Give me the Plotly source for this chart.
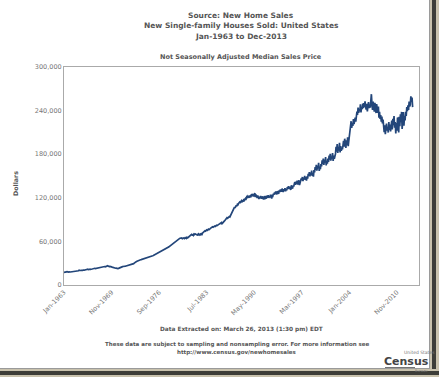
import pandas as pd
import plotly.graph_objects as go

# Median sales price, thousands of dollars, monthly from Jan-1963
prices_1960s = [
    17.2, 17.7, 18.2, 18.2, 18.0, 18.4, 17.5, 18.0, 17.8, 18.3, 18.0, 17.9,
    18.0, 18.4, 18.9, 18.8, 19.0, 19.3, 19.2, 18.5, 18.7, 19.4, 18.9, 19.2,
    19.3, 19.6, 20.3, 19.8, 20.4, 20.0, 20.2, 19.9, 20.1, 20.5, 19.8, 20.4,
    20.6, 21.0, 21.5, 21.7, 21.3, 21.9, 21.2, 21.6, 21.1, 21.8, 21.4, 21.7,
    21.9, 22.3, 22.6, 22.9, 22.4, 23.0, 22.6, 22.8, 22.9, 23.1, 22.7, 23.3,
    23.6, 24.0, 24.4, 24.6, 24.9, 24.5, 25.0, 24.8, 25.2, 24.9, 25.4, 25.1,
    25.8, 26.2, 25.9, 26.4, 25.7, 25.9, 25.4, 25.6, 25.0, 25.3, 24.9, 24.6,
]
prices_1970s = [
    24.2, 23.8, 23.9, 23.4, 23.6, 23.1, 23.3, 22.8, 23.0, 22.6, 22.9, 23.4,
    23.8, 24.2, 24.6, 24.9, 25.0, 25.3, 25.5, 25.4, 25.8, 25.6, 26.0, 26.2,
    26.4, 26.8, 27.0, 27.3, 27.6, 27.4, 27.9, 27.7, 28.1, 28.0, 28.3, 28.6,
    29.4, 30.2, 31.0, 31.5, 32.0, 32.4, 32.8, 33.3, 33.6, 33.9, 34.2, 34.6,
    34.8, 35.0, 35.2, 35.5, 35.6, 35.8, 36.0, 36.1, 36.4, 36.6, 36.9, 37.2,
    37.6, 38.0, 38.4, 38.6, 39.0, 39.3, 39.5, 39.8, 40.0, 40.2, 40.5, 40.9,
    41.6, 42.1, 42.8, 43.2, 43.7, 44.1, 44.6, 44.9, 45.3, 45.7, 46.0, 46.5,
    46.4, 46.9, 47.5, 47.9, 48.4, 48.9, 49.3, 49.6, 50.0, 50.5, 50.8, 51.4,
    51.8, 52.5, 53.3, 54.0, 54.8, 55.4, 56.1, 56.8, 57.3, 58.0, 58.5, 59.2,
    59.8, 60.4, 61.0, 61.8, 62.3, 62.9, 63.4, 63.8, 64.3, 64.6, 65.0, 64.8,
]
prices_1980s = [
    63.6, 64.0, 63.4, 64.8, 63.9, 64.5, 65.1, 64.2, 65.6, 64.9, 65.4, 66.0,
    66.8, 67.5, 68.0, 68.4, 69.6, 68.9, 69.2, 68.3, 70.1, 69.5, 70.4, 69.8,
    68.6, 69.0, 69.4, 68.2, 70.3, 69.7, 68.9, 70.1, 69.2, 70.5, 69.8, 71.6,
    72.5, 73.1, 73.9, 74.6, 74.1, 75.3, 75.8, 75.2, 76.4, 76.9, 76.3, 77.8,
    77.6, 78.4, 79.0, 78.6, 80.1, 79.5, 80.4, 79.8, 81.2, 80.7, 81.6, 82.3,
    81.8, 82.6, 83.4, 84.0, 83.5, 84.6, 85.3, 84.4, 85.9, 84.8, 86.2, 87.4,
    87.2, 88.6, 89.5, 90.8, 91.2, 92.6, 91.9, 93.4, 92.8, 94.2, 93.6, 95.4,
    97.0, 99.2, 100.8, 103.5, 105.1, 106.6, 107.2, 106.0, 108.8, 109.5, 108.3, 111.0,
    110.4, 112.2, 113.0, 114.3, 113.6, 115.2, 116.0, 114.5, 115.8, 116.6, 114.9, 117.8,
    117.4, 119.2, 118.5, 121.3, 120.6, 122.4, 121.8, 120.2, 123.0, 122.5, 120.8, 124.4,
]
prices_1990s = [
    124.6, 122.0, 125.3, 121.8, 123.5, 126.4, 120.9, 124.2, 122.6, 119.8, 123.1, 121.5,
    118.4, 121.6, 119.2, 122.4, 120.5, 118.8, 121.9, 119.4, 117.6, 120.8, 122.2, 119.0,
    119.5, 122.8, 120.4, 121.0, 123.6, 119.9, 122.3, 120.6, 124.1, 121.2, 118.9, 123.0,
    122.4, 125.8, 124.2, 127.3, 125.0, 128.6, 126.1, 124.7, 129.2, 127.5, 125.4, 130.3,
    127.8, 131.4, 129.2, 128.4, 132.6, 130.1, 127.9, 131.8, 129.5, 133.2, 128.8, 132.0,
    130.2, 134.8, 132.5, 136.0, 131.9, 135.3, 133.7, 130.8, 137.2, 134.1, 132.6, 136.8,
    135.4, 139.2, 141.6, 137.8, 142.3, 139.0, 143.5, 138.2, 140.6, 144.1, 137.5, 141.8,
    140.8, 146.5, 144.2, 148.6, 143.0, 147.9, 145.1, 150.2, 144.6, 148.3, 143.8, 149.5,
    146.2, 153.0, 150.4, 155.2, 149.6, 154.8, 151.2, 157.3, 150.0, 153.6, 149.2, 158.0,
    155.0, 162.4, 158.6, 165.3, 157.2, 163.8, 160.5, 168.2, 156.9, 162.0, 159.4, 166.5,
]
prices_2000s = [
    163.2, 171.5, 166.8, 174.0, 165.4, 172.2, 168.3, 176.1, 164.6, 170.4, 167.0, 173.8,
    169.5, 178.2, 172.4, 180.6, 171.0, 176.8, 174.2, 181.4, 170.6, 178.0, 173.5, 176.9,
    180.4, 190.2, 183.6, 193.8, 181.8, 189.5, 185.0, 195.6, 182.5, 191.3, 184.6, 188.9,
    186.6, 192.4, 198.5, 190.2, 201.3, 194.6, 188.8, 199.0, 192.5, 203.2, 191.0, 198.2,
    205.4, 212.8, 218.6, 225.4, 216.2, 222.9, 219.0, 228.4, 221.5, 226.0, 230.2, 224.8,
    232.5, 238.6, 234.0, 244.2, 236.8, 241.5, 239.2, 248.6, 237.4, 245.0, 242.1, 249.8,
    243.2, 250.4, 244.6, 252.8, 245.0, 241.6, 249.5, 238.8, 246.2, 251.6, 243.4, 247.8,
    244.0, 254.6, 262.6, 248.2, 241.0, 252.4, 245.6, 238.4, 250.8, 242.2, 236.6, 249.0,
    242.5, 236.8, 245.6, 230.4, 238.2, 228.6, 234.0, 224.6, 231.8, 222.4, 227.6, 218.9,
    210.2, 219.6, 207.4, 215.8, 222.0, 212.6, 217.4, 209.8, 224.2, 213.6, 220.8, 211.4,
]
prices_2010s = [
    218.6, 226.4, 214.2, 228.8, 220.0, 232.6, 216.4, 224.2, 208.6, 222.8, 212.4, 230.6,
    222.4, 209.8, 231.6, 218.4, 234.8, 224.2, 238.2, 214.6, 226.8, 238.0, 219.2, 232.4,
    226.4, 238.4, 232.6, 244.8, 239.2, 247.4, 241.0, 252.6, 245.8, 248.2, 259.6, 252.4,
    258.0, 244.8,
]

y_ticks = [0, 60000, 120000, 180000, 240000, 300000]
x_tick_dates = ["1963-01-01", "1969-11-01", "1976-09-01", "1983-07-01",
                "1990-05-01", "1997-03-01", "2004-01-01", "2010-11-01"]
x_tick_labels = ["Jan-1963", "Nov-1969", "Sep-1976", "Jul-1983",
                 "May-1990", "Mar-1997", "Jan-2004", "Nov-2010"]

values = [v * 1000 for v in prices_1960s + prices_1970s + prices_1980s
          + prices_1990s + prices_2000s + prices_2010s]
dates = pd.date_range("1963-01-01", periods=len(values), freq="MS")

W, H = 439, 377
L, R, T, B = 64, 20, 67, 92
PW, PH = W - L - R, H - T - B


def px(x):
    return (x - L) / PW


def py(y):
    return (H - B - y) / PH


FONT = "DejaVu Sans"
GREY = "#555555"

fig = go.Figure()
fig.add_trace(go.Scatter(x=dates, y=values, mode="lines",
                         line=dict(color="#23467a", width=1.7),
                         hoverinfo="skip", showlegend=False))

ann = []


def text(t, x, y, size, color=GREY, bold=True, **kw):
    s = f"<b>{t}</b>" if bold else t
    ann.append(dict(text=s, x=px(x), y=py(y), xref="paper", yref="paper",
                    showarrow=False, xanchor=kw.pop("xanchor", "center"),
                    yanchor="middle", font=dict(family=FONT, size=size, color=color),
                    **kw))


text("Source: New Home Sales", 241, 15, 7.5)
text("New Single-family Houses Sold: United States", 241, 26, 7.5)
text("Jan-1963 to Dec-2013", 241, 37, 7.5)
text("Not Seasonally Adjusted Median Sales Price", 241, 57, 6.5)
text("Dollars", 15, 183, 6.3, textangle=-90)
text("Data Extracted on: March 26, 2013 (1:30 pm) EDT", 241, 329, 5.8)
text("These data are subject to sampling and nonsampling error. For more information see",
     237, 344, 5.5)
text("http://www.census.gov/newhomesales", 237, 352, 5.5)
text("United States", 419, 352, 4.5, color="#777777", bold=False)
text("Census", 406, 361, 11, color="#444444")
text("Bureau", 421, 370.5, 3.5, color="#777777", bold=False)

shapes = [
    # census logo underline
    dict(type="line", xref="paper", yref="paper", x0=px(385), x1=px(415),
         y0=py(368), y1=py(368), line=dict(color="#444444", width=1.5)),
    # right frame shadow
    dict(type="rect", xref="paper", yref="paper", x0=px(430), x1=px(440),
         y0=py(-2), y1=py(378), fillcolor="#c9c2ad", line=dict(width=0)),
    dict(type="rect", xref="paper", yref="paper", x0=px(432), x1=px(436),
         y0=py(-2), y1=py(378), fillcolor="#3d3d38", line=dict(width=0)),
    # bottom frame shadow
    dict(type="rect", xref="paper", yref="paper", x0=px(-2), x1=px(440),
         y0=py(369), y1=py(378), fillcolor="#c9c2ad", line=dict(width=0)),
    dict(type="rect", xref="paper", yref="paper", x0=px(-2), x1=px(440),
         y0=py(371), y1=py(375), fillcolor="#3d3d38", line=dict(width=0)),
    dict(type="line", xref="paper", yref="paper", x0=px(429.5), x1=px(429.5),
         y0=py(0), y1=py(369), line=dict(color="#9a9a9a", width=1)),
    dict(type="line", xref="paper", yref="paper", x0=px(0), x1=px(430),
         y0=py(368.5), y1=py(368.5), line=dict(color="#9a9a9a", width=1)),
]

fig.update_layout(
    width=W, height=H,
    margin=dict(l=L, r=R, t=T, b=B, autoexpand=False),
    paper_bgcolor="white", plot_bgcolor="white",
    annotations=ann, shapes=shapes,
    xaxis=dict(type="date", range=["1963-01-01", "2014-01-01"],
               tickvals=x_tick_dates, ticktext=x_tick_labels, tickangle=-45,
               showgrid=False, zeroline=False, showline=True, mirror=True,
               linecolor="#aaaaaa", linewidth=1, ticks="",
               tickfont=dict(family=FONT, size=6.5, color="#777777")),
    yaxis=dict(range=[0, 300000], tickvals=y_ticks, tickformat=",d",
               showgrid=False, zeroline=False, showline=True, mirror=True,
               linecolor="#aaaaaa", linewidth=1, ticks="",
               tickfont=dict(family=FONT, size=6.5, color="#777777")),
)

fig.write_html("out.html",
               config={"displayModeBar": False},
               post_script="document.body.style.margin='0';"
                           "document.body.style.overflow='hidden';")
